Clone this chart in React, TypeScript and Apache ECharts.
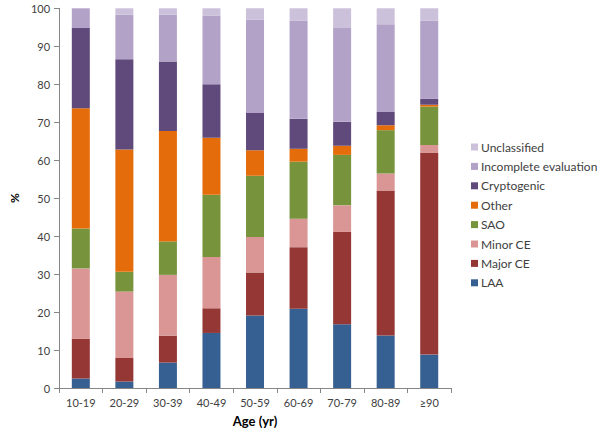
import React, { useEffect, useRef } from "react";
import * as echarts from "echarts";

const categories = ["10-19", "20-29", "30-39", "40-49", "50-59", "60-69", "70-79", "80-89", "≥90"];
const seriesNames = ["LAA", "Major CE", "Minor CE", "SAO", "Other", "Cryptogenic", "Incomplete evaluation", "Unclassified"];
const laa = [2.5, 1.7, 6.7, 14.5, 19.1, 20.9, 16.8, 13.8, 8.8];
const majorCE = [10.5, 6.2, 7.1, 6.5, 11.3, 16.2, 24.3, 38.2, 53.1];
const minorCE = [18.5, 17.5, 16.0, 13.5, 9.4, 7.5, 7.0, 4.5, 2.1];
const sao = [10.5, 5.2, 8.8, 16.4, 16.1, 15.0, 13.3, 11.4, 10.1];
const other = [31.7, 32.2, 29.1, 15.0, 6.7, 3.4, 2.4, 1.3, 0.5];
const cryptogenic = [21.1, 23.8, 18.3, 14.1, 9.8, 7.9, 6.3, 3.5, 1.6];
const incomplete = [5.2, 11.7, 12.3, 18.1, 24.6, 25.8, 24.7, 23.1, 20.5];
const unclassified = [0, 1.7, 1.7, 1.9, 3.0, 3.3, 5.2, 4.2, 3.3];
const seriesData = [laa, majorCE, minorCE, sao, other, cryptogenic, incomplete, unclassified];
const colors = ["#376092", "#953735", "#d99694", "#77933c", "#e46c0a", "#604a7b", "#b3a2c7", "#ccc1da"];

const FONT = "Lato";

export default function App() {
  const ref = useRef<HTMLDivElement>(null);
  useEffect(() => {
    if (!ref.current) return;
    const chart = echarts.init(ref.current, undefined, { renderer: "svg" });
    chart.setOption({
      animation: false,
      textStyle: { fontFamily: FONT },
      grid: { left: 46, top: 8.3, right: 149, bottom: 43.7, containLabel: false },
      legend: {
        orient: "vertical",
        left: 466,
        top: 136,
        icon: "rect",
        itemWidth: 7,
        itemHeight: 7,
        itemGap: 7.4,
        data: [...seriesNames].reverse(),
        textStyle: { fontFamily: FONT, fontSize: 12, color: "#404040", padding: [0, 0, 0, -2] },
      },
      xAxis: {
        type: "category",
        data: categories,
        name: "Age (yr)",
        nameLocation: "middle",
        nameGap: 26,
        nameTextStyle: { fontFamily: FONT, fontSize: 13, fontWeight: "bold", color: "#000" },
        axisLine: { lineStyle: { color: "#868686" } },
        axisTick: { show: true, alignWithLabel: false, length: 5, lineStyle: { color: "#868686" } },
        axisLabel: { fontFamily: FONT, fontSize: 11, color: "#404040", margin: 9 },
      },
      yAxis: {
        type: "value",
        min: 0,
        max: 100,
        interval: 10,
        name: "%",
        nameLocation: "middle",
        nameGap: 37,
        nameRotate: 90,
        nameTextStyle: { fontFamily: FONT, fontSize: 12, fontWeight: "bold", color: "#000" },
        axisLine: { show: true, lineStyle: { color: "#868686" } },
        axisTick: { show: true, inside: false, length: 5, lineStyle: { color: "#868686" } },
        splitLine: { show: false },
        axisLabel: { fontFamily: FONT, fontSize: 11, color: "#404040", margin: 9 },
      },
      series: seriesNames.map((name, i) => ({
        name,
        type: "bar",
        stack: "total",
        data: seriesData[i],
        barWidth: 18,
        itemStyle: { color: colors[i] },
      })),
    });
    return () => chart.dispose();
  }, []);
  return <div ref={ref} style={{ width: 600, height: 432, position: "absolute", left: 0, top: 0 }} />;
}
